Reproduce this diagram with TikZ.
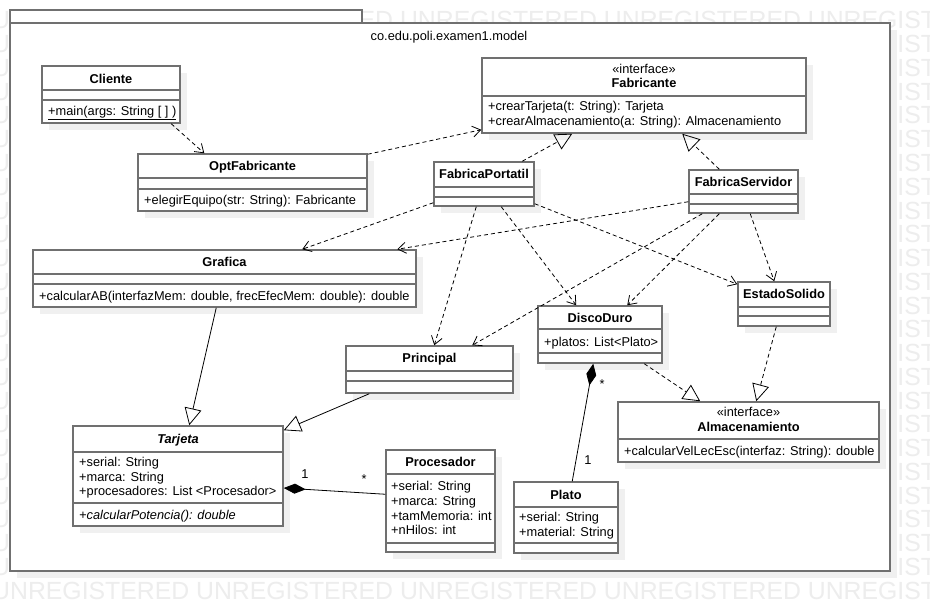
\documentclass[tikz,border=0pt]{standalone}
\usepackage{fontspec}
\setmainfont{Liberation Sans}
\usetikzlibrary{arrows.meta,shadows,fit}
\definecolor{boxline}{HTML}{707070}
\definecolor{shadowc}{HTML}{F0F0F0}
\definecolor{wmark}{HTML}{EDEDED}
\begin{document}
\begin{tikzpicture}[x=1pt,y=-1pt,
  font=\fontsize{12.8}{15}\selectfont,
  cls/.style={draw=boxline, line width=1.5pt, fill=white, inner sep=0pt,
    general shadow={fill=shadowc, shadow xshift=7pt, shadow yshift=-7pt}},
  pkgbox/.style={draw=boxline, line width=1.5pt, fill=white, inner sep=0pt},
  divider/.style={draw=boxline, line width=1.5pt},
  cname/.style={font=\fontsize{12.8}{15}\selectfont\bfseries, inner sep=0pt, anchor=base},
  cster/.style={inner sep=0pt, anchor=base},
  ctext/.style={anchor=base west, inner sep=0pt},
  conn/.style={line width=0.8pt, draw=black},
  dep/.style={conn, dash pattern=on 4pt off 3pt, -{Straight Barb[length=8pt,width=11pt]}},
  real/.style={conn, dash pattern=on 4pt off 3pt, -{Triangle[open,length=17pt,width=17pt]}},
  gen/.style={conn, -{Triangle[open,length=17pt,width=17pt]}},
  comp/.style={conn, {Diamond[length=22pt,width=10pt]}-},
  mult/.style={inner sep=0pt},
  wm/.style={text=wmark, font=\fontsize{24.8}{24.8}\selectfont, anchor=base west, inner sep=0pt}
]
\useasboundingbox (0,0) rectangle (930,610);
\fill[white] (0,0) rectangle (930,610);
% watermark (only the parts that show around the package)
\begin{scope}
\clip (0,0) rectangle (930,610);
\foreach \r in {0,24} {
  \node[wm] (wm-\r) at (-8,{29+23.75*\r}) {UNREGISTERED UNREGISTERED UNREGISTERED UNREGISTERED UNREGISTERED};
}
\foreach \r in {1,...,23} {
  \node[wm] (wm-\r) at (-8,{29+23.75*\r}) {U\phantom{NREGISTERED UNREGISTERED UNREGISTERED UNREGISTERED UNREG}ISTERED};
}
\end{scope}
% package
\node[pkgbox, fit={(10,10) (362,23)}] (pkgtab) {};
\node[pkgbox, general shadow={fill=shadowc, shadow xshift=7pt, shadow yshift=-7pt}, fit={(10,23) (890,571)}] (pkg) {};
\node[cster] (pkgname) at (449,41) {co.edu.poli.examen1.model};

% Cliente
\node[cls, fit={(42,66) (180,123)}] (cliente) {};
\draw[divider] (42,90) -- (180,90);
\draw[divider] (42,100) -- (180,100);
\node[cname] (cliente-n) at (111,83.5) {Cliente};
\node[ctext] (cliente-o) at (48,115.5) {\underline{+main(args: String [ ] )}};

% OptFabricante
\node[cls, fit={(138,154) (367,211)}] (optf) {};
\draw[divider] (138,178) -- (367,178);
\draw[divider] (138,189) -- (367,189);
\node[cname] (optf-n) at (252.5,170.5) {OptFabricante};
\node[ctext] (optf-o) at (144,204.5) {+elegirEquipo(str: String): Fabricante};

% Fabricante
\node[cls, fit={(482,58) (806,133)}] (fab) {};
\draw[divider] (482,96) -- (806,96);
\node[cster] (fab-s) at (644,73.5) {«interface»};
\node[cname] (fab-n) at (644,87.5) {Fabricante};
\node[ctext] (fab-o1) at (488,110.5) {+crearTarjeta(t: String): Tarjeta};
\node[ctext] (fab-o2) at (488,125.5) {+crearAlmacenamiento(a: String): Almacenamiento};

% FabricaPortatil
\node[cls, fit={(434,162) (534,206)}] (fport) {};
\draw[divider] (434,187) -- (534,187);
\draw[divider] (434,197) -- (534,197);
\node[cname] (fport-n) at (484,178.5) {FabricaPortatil};

% FabricaServidor
\node[cls, fit={(689,170) (798,213)}] (fserv) {};
\draw[divider] (689,194) -- (798,194);
\draw[divider] (689,204) -- (798,204);
\node[cname] (fserv-n) at (743.5,186.5) {FabricaServidor};

% Grafica
\node[cls, fit={(33,250) (416,307)}] (grafica) {};
\draw[divider] (33,274) -- (416,274);
\draw[divider] (33,284) -- (416,284);
\node[cname] (grafica-n) at (224.5,266.5) {Grafica};
\node[ctext] (grafica-o) at (39,300.5) {+calcularAB(interfazMem: double, frecEfecMem: double): double};

% Principal
\node[cls, fit={(346,346) (513,393)}] (principal) {};
\draw[divider] (346,371) -- (513,371);
\draw[divider] (346,381) -- (513,381);
\node[cname] (principal-n) at (429.5,362.5) {Principal};

% DiscoDuro
\node[cls, fit={(538,306) (662,363)}] (disco) {};
\draw[divider] (538,329) -- (662,329);
\draw[divider] (538,353) -- (662,353);
\node[cname] (disco-n) at (600,322.5) {DiscoDuro};
\node[ctext] (disco-a) at (544,346.5) {+platos: List<Plato>};

% EstadoSolido
\node[cls, fit={(738,282) (830,326)}] (estado) {};
\draw[divider] (738,307) -- (830,307);
\draw[divider] (738,316) -- (830,316);
\node[cname] (estado-n) at (784,298.5) {EstadoSolido};

% Almacenamiento
\node[cls, fit={(618,402) (879,462)}] (alm) {};
\draw[divider] (618,439) -- (879,439);
\node[cster] (alm-s) at (748.5,416.5) {«interface»};
\node[cname] (alm-n) at (748.5,431.5) {Almacenamiento};
\node[ctext] (alm-o) at (624,455.5) {+calcularVelLecEsc(interfaz: String): double};

% Tarjeta
\node[cls, fit={(73,426) (283,526)}] (tarjeta) {};
\draw[divider] (73,452) -- (283,452);
\draw[divider] (73,503) -- (283,503);
\node[cname, font=\fontsize{12.8}{15}\selectfont\bfseries\itshape] (tarjeta-n) at (178,443.5) {Tarjeta};
\node[ctext] (tarjeta-a1) at (79,466.5) {+serial: String};
\node[ctext] (tarjeta-a2) at (79,481.5) {+marca: String};
\node[ctext] (tarjeta-a3) at (79,495.5) {+procesadores: List <Procesador>};
\node[ctext, font=\fontsize{12.8}{15}\selectfont\itshape] (tarjeta-o) at (79,519.5) {+calcularPotencia(): double};

% Procesador
\node[cls, fit={(386,450) (495,552)}] (proc) {};
\draw[divider] (386,474) -- (495,474);
\draw[divider] (386,543) -- (495,543);
\node[cname] (proc-n) at (440.5,466.5) {Procesador};
\node[ctext] (proc-a1) at (391,490.5) {+serial: String};
\node[ctext] (proc-a2) at (391,505.5) {+marca: String};
\node[ctext] (proc-a3) at (391,520.5) {+tamMemoria: int};
\node[ctext] (proc-a4) at (391,534.5) {+nHilos: int};

% Plato
\node[cls, fit={(514,482) (618,553)}] (plato) {};
\draw[divider] (514,507) -- (618,507);
\draw[divider] (514,543) -- (618,543);
\node[cname] (plato-n) at (566,499.5) {Plato};
\node[ctext] (plato-a1) at (519,521.5) {+serial: String};
\node[ctext] (plato-a2) at (519,536.5) {+material: String};

% connectors
\draw[dep] ([xshift=130pt]cliente.south west) -- ([xshift=67pt]optf.north west);
\draw[dep] ([yshift=-1pt]optf.north east) -- ([yshift=4pt]fab.south west);
\draw[real] ([xshift=89pt]fport.north west) -- ([xshift=91pt]fab.south west);
\draw[real] ([xshift=31pt]fserv.north west) -- ([xshift=201pt]fab.south west);
\draw[dep] ([yshift=4pt]fport.south west) -- ([xshift=270pt]grafica.north west);
\draw[dep] ([yshift=12pt]fserv.south west) -- ([xshift=365pt]grafica.north west);
\draw[dep] ([xshift=43pt]fport.south west) -- ([xshift=89pt]principal.north west);
\draw[dep] ([xshift=68pt]fport.south west) -- ([xshift=39pt]disco.north west);
\draw[dep] ([yshift=3pt]fport.south east) -- ([yshift=-3pt]estado.north west);
\draw[dep] ([xshift=14pt]fserv.south west) -- ([xshift=127pt]principal.north west);
\draw[dep] ([xshift=31pt]fserv.south west) -- ([xshift=90pt]disco.north west);
\draw[dep] ([xshift=62pt]fserv.south west) -- ([xshift=37pt]estado.north west);
\draw[real] ([xshift=107pt]disco.south west) -- ([xshift=83pt]alm.north west);
\draw[real] ([xshift=39pt]estado.south west) -- ([xshift=139pt]alm.north west);
\draw[gen] ([xshift=184pt]grafica.south west) -- ([xshift=117pt]tarjeta.north west);
\draw[gen] ([xshift=24pt]principal.south west) -- ([yshift=-5pt]tarjeta.north east);
\draw[comp] ([yshift=-12pt]tarjeta.east) -- ([yshift=-45pt]proc.north west);
\draw[comp] ([xshift=56pt]disco.south west) -- ([xshift=59pt]plato.north west);

% multiplicities
\node[mult] (m1) at (305,474) {1};
\node[mult] (m2) at (364,479) {*};
\node[mult] (m3) at (602,384) {*};
\node[mult] (m4) at (588,460) {1};
\end{tikzpicture}
\end{document}
